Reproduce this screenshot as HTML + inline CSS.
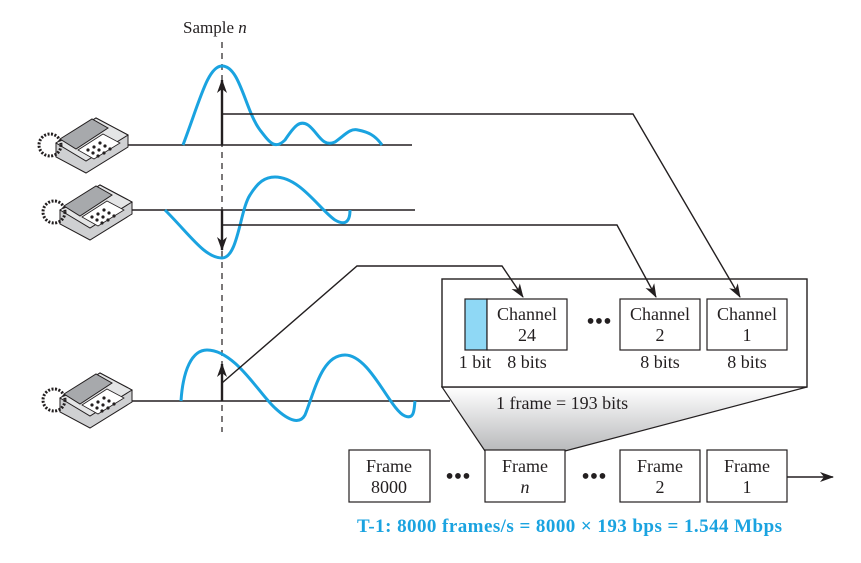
<!DOCTYPE html>
<html><head><meta charset="utf-8"><style>
body{margin:0;background:#fff;width:861px;height:558px;overflow:hidden}
text{font-family:"Liberation Serif",serif;fill:#231f20}
</style></head><body>
<svg width="861" height="558" viewBox="0 0 861 558">
<defs>
<marker id="ah" markerWidth="14" markerHeight="10" refX="13" refY="5" orient="auto" markerUnits="userSpaceOnUse"><path d="M0,0 L14,5 L0,10 L4,5 Z" fill="#231f20"/></marker>
<linearGradient id="tg" x1="0" y1="0" x2="0" y2="1"><stop offset="0" stop-color="#fff"/><stop offset="1" stop-color="#b8b9bb"/></linearGradient>
<g id="phone">
<path d="M20,40 L60,15 L92,32 L92,44 L50,70 L20,54 Z" fill="#cfd0d2" stroke="#231f20" stroke-width="1"/>
<path d="M20,40 L60,15 L92,32 L50,58 Z" fill="#e4e5e6" stroke="#231f20" stroke-width="1"/>
<path d="M24,36 L56,16 L72,25 L40,46 Z" fill="#a7a9ac" stroke="#231f20" stroke-width="1"/>
<path d="M42,47 L67,31 L84,40 L58,56 Z" fill="#fff" stroke="#231f20" stroke-width="0.8"/>
<g fill="#231f20"><circle cx="52" cy="47" r="1.6"/><circle cx="58" cy="44" r="1.6"/><circle cx="64" cy="40" r="1.6"/><circle cx="57" cy="50" r="1.6"/><circle cx="63" cy="47" r="1.6"/><circle cx="69" cy="43" r="1.6"/><circle cx="62" cy="53" r="1.6"/><circle cx="68" cy="50" r="1.6"/><circle cx="74" cy="46" r="1.6"/></g>
<circle cx="14" cy="42" r="11" fill="none" stroke="#231f20" stroke-width="3" stroke-dasharray="2 1.5"/>
</g>
</defs>
<text x="183" y="33" font-size="17">Sample <tspan font-style="italic">n</tspan></text>
<line x1="222" y1="42" x2="222" y2="432" stroke="#231f20" stroke-width="1.2" stroke-dasharray="6 5"/>

<use href="#phone" x="36" y="103"/>
<use href="#phone" x="40" y="170"/>
<use href="#phone" x="40" y="358"/>

<g stroke="#231f20" stroke-width="1.6" fill="none">
<line x1="128" y1="145" x2="412" y2="145"/>
<line x1="132" y1="210" x2="415" y2="210"/>
<line x1="132" y1="401" x2="450" y2="401"/>
</g>

<g stroke="#1aa3e0" stroke-width="3" fill="none">
<path d="M183,145 C200,100 208,66 222,66 C240,66 245,110 260,130 C270,143 275,150 285,140 C295,125 300,120 308,125 C318,132 322,148 335,142 C345,135 350,128 358,130 C368,132 375,135 382,145"/>
<path d="M165,210 C190,235 205,258 222,258 C238,258 240,210 250,195 C258,182 265,177 275,177 C300,177 320,210 335,220 C345,226 350,222 350,210"/>
<path d="M181,401 C183,370 192,350 207,350 C235,350 260,395 275,408 C290,422 300,424 305,415 C315,390 322,355 345,355 C370,355 390,410 405,416 C415,420 414,408 415,401"/>
</g>

<g stroke="#231f20" stroke-width="2.4" fill="none">
<line x1="222" y1="145" x2="222" y2="80" marker-end="url(#ah)"/>
<line x1="222" y1="210" x2="222" y2="250" marker-end="url(#ah)"/>
<line x1="222" y1="401" x2="222" y2="364" marker-end="url(#ah)"/>
</g>

<polygon points="442,387 807,387 565,451 485,451" fill="url(#tg)" stroke="#231f20" stroke-width="1.2"/>
<rect x="442" y="279" width="365" height="108" fill="#fff" stroke="#231f20" stroke-width="1.4"/>

<g stroke="#231f20" stroke-width="1.4" fill="none">
<polyline points="222,114 633,114 740,297" marker-end="url(#ah)"/>
<polyline points="222,225 617,225 656,297" marker-end="url(#ah)"/>
<polyline points="222,383 357,266 502,266 523,297" marker-end="url(#ah)"/>
</g>

<rect x="465" y="299" width="22" height="51" fill="#8fd8f5" stroke="#231f20" stroke-width="1.2"/>
<g fill="#fff" stroke="#231f20" stroke-width="1.2">
<rect x="487" y="299" width="80" height="51"/>
<rect x="620" y="299" width="80" height="51"/>
<rect x="707" y="299" width="80" height="51"/>
</g>
<g font-size="18" text-anchor="middle">
<text x="527" y="320">Channel</text><text x="527" y="341">24</text>
<text x="660" y="320">Channel</text><text x="660" y="341">2</text>
<text x="747" y="320">Channel</text><text x="747" y="341">1</text>
<text x="475" y="368">1 bit</text><text x="527" y="368">8 bits</text>
<text x="660" y="368">8 bits</text><text x="747" y="368">8 bits</text>
<text x="599" y="329" font-size="24">•••</text>
</g>
<text x="496" y="409" font-size="18">1 frame = 193 bits</text>

<g fill="#fff" stroke="#231f20" stroke-width="1.2">
<rect x="349" y="450" width="81" height="52"/>
<rect x="485" y="450" width="80" height="52"/>
<rect x="620" y="450" width="80" height="52"/>
<rect x="707" y="450" width="80" height="52"/>
</g>
<g font-size="18" text-anchor="middle">
<text x="389" y="472">Frame</text><text x="389" y="493">8000</text>
<text x="525" y="472">Frame</text><text x="525" y="493" font-style="italic">n</text>
<text x="660" y="472">Frame</text><text x="660" y="493">2</text>
<text x="747" y="472">Frame</text><text x="747" y="493">1</text>
<text x="458" y="484" font-size="24">•••</text>
<text x="594" y="484" font-size="24">•••</text>
</g>
<line x1="787" y1="477" x2="833" y2="477" stroke="#231f20" stroke-width="1.4" marker-end="url(#ah)"/>
<text x="357" y="532" font-size="19" font-weight="bold" style="fill:#1aa3e0" textLength="425">T-1: 8000 frames/s = 8000 × 193 bps = 1.544 Mbps</text>
</svg>
</body></html>
